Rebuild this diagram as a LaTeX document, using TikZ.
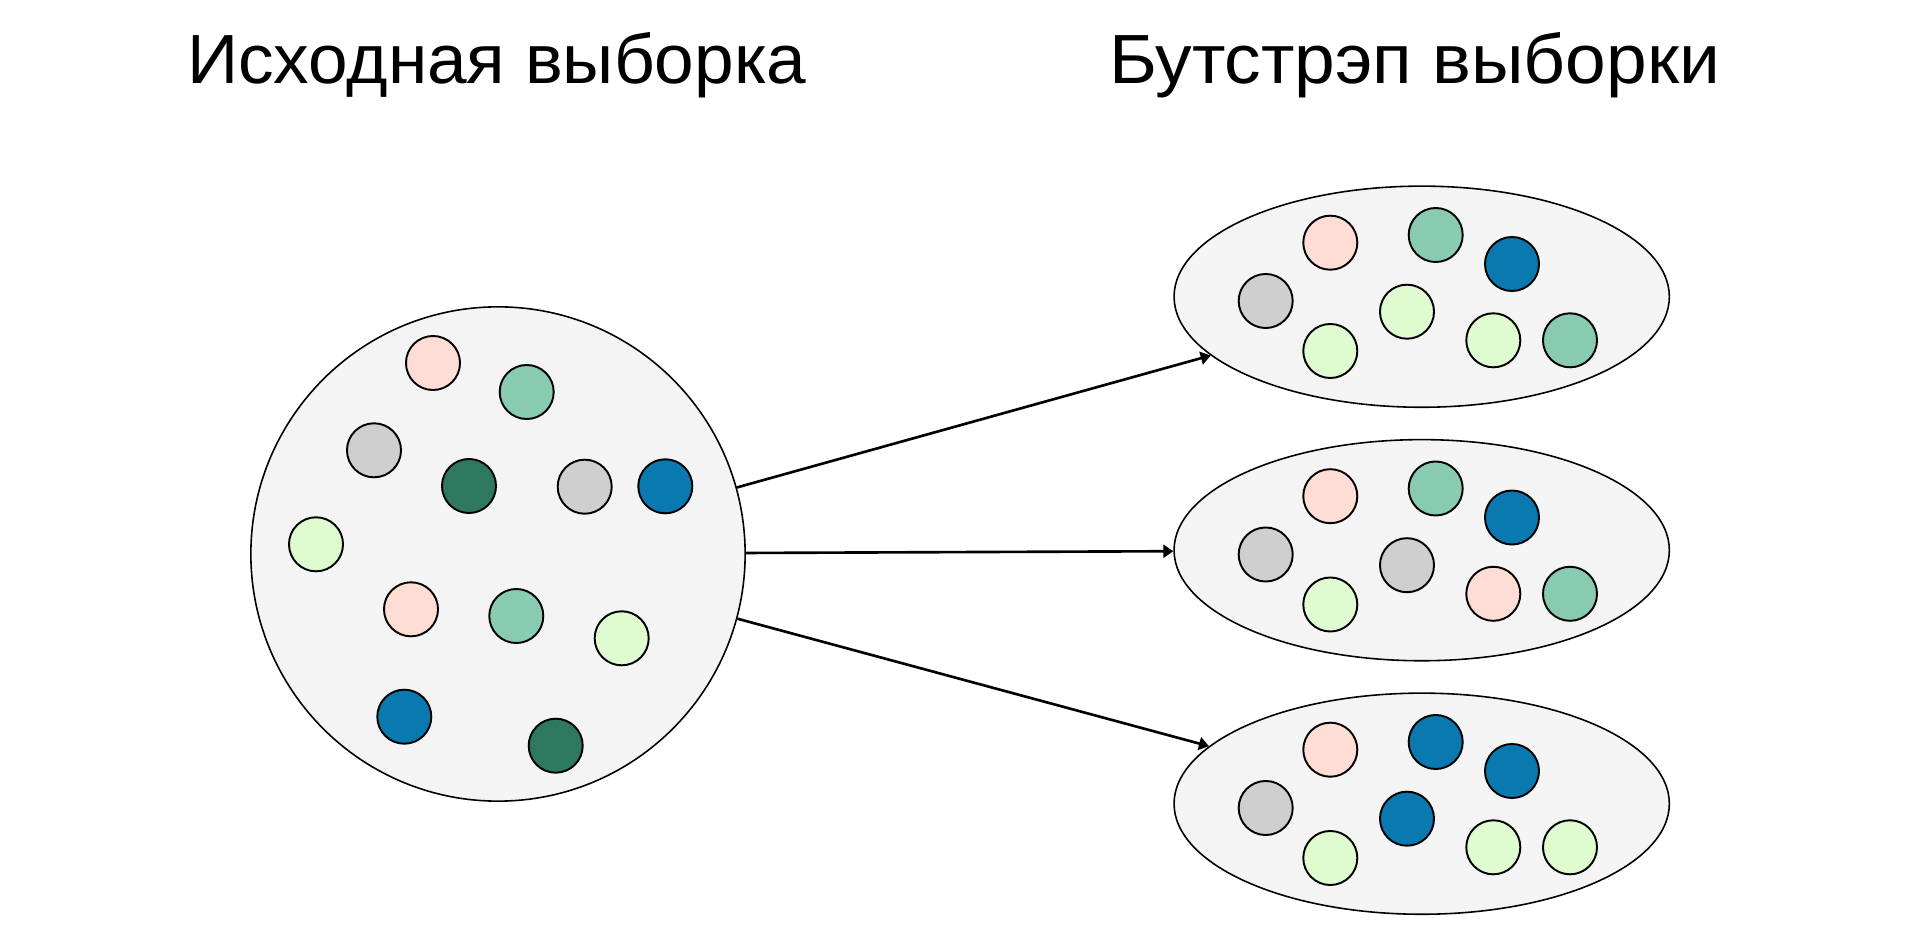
\documentclass[tikz,border=0pt]{standalone}
\usepackage{graphicx}
\usepackage{fontspec}
\setmainfont{Liberation Sans}
\usetikzlibrary{shapes.geometric,arrows.meta}
\definecolor{bgfill}{HTML}{F4F4F4}
\definecolor{cpink}{HTML}{FFDCD4}
\definecolor{cteal}{HTML}{89CBB0}
\definecolor{cgray}{HTML}{CFCFCF}
\definecolor{cdark}{HTML}{2E7860}
\definecolor{cblue}{HTML}{0A79B0}
\definecolor{clime}{HTML}{DEFCD0}
\tikzset{
  dot/.style={circle, draw=black, line width=0.55pt, minimum size=0.54cm, inner sep=0pt},
  bigcirc/.style={circle, draw=black, line width=0.45pt, fill=bgfill, minimum size=4.94cm, inner sep=0pt},
  sampell/.style={ellipse, draw=black, line width=0.45pt, fill=bgfill, minimum width=4.95cm, minimum height=2.21cm, inner sep=0pt},
  conn/.style={line width=0.75pt, -{Triangle[length=0.1cm, width=0.13cm]}},
  ttl/.style={anchor=base, inner sep=0pt, font=\fontsize{19.8pt}{23pt}\selectfont}
}
\begin{document}
\begin{tikzpicture}[x=0.01cm, y=-0.01cm]
\useasboundingbox (0,0) rectangle (1920,949);
% titles
\node[ttl] (t1) at (496.7,83.3) {\scalebox{1.022}[1]{Исходная выборка}};
\node[ttl] (t2) at (1414.5,83.3) {\scalebox{1.05}[1]{Бутстрэп выборки}};
% original sample
\node[bigcirc] (big) at (498,554) {};
\node[dot, fill=cpink] (o1) at (433,363) {};
\node[dot, fill=cteal] (o2) at (526.7,392) {};
\node[dot, fill=cgray] (o3) at (374,450.3) {};
\node[dot, fill=cdark] (o4) at (469,486) {};
\node[dot, fill=cgray] (o5) at (584.7,486.7) {};
\node[dot, fill=cblue] (o6) at (665.3,486.3) {};
\node[dot, fill=clime] (o7) at (316,544.3) {};
\node[dot, fill=cpink] (o8) at (411,609.3) {};
\node[dot, fill=cteal] (o9) at (516.3,616) {};
\node[dot, fill=clime] (o10) at (621.7,638.3) {};
\node[dot, fill=cblue] (o11) at (404.3,716.7) {};
\node[dot, fill=cdark] (o12) at (555.7,745.7) {};
% bootstrap sample 1
\node[sampell] (e1) at (1421.7,296.7) {};
\node[dot, fill=cgray] (a1) at (1265.7,301) {};
\node[dot, fill=cpink] (a2) at (1330.3,242.7) {};
\node[dot, fill=clime] (a3) at (1330.3,351) {};
\node[dot, fill=cteal] (a4) at (1435.7,235) {};
\node[dot, fill=clime] (a5) at (1407,311.7) {};
\node[dot, fill=cblue] (a6) at (1512,264) {};
\node[dot, fill=clime] (a7) at (1493.3,340.3) {};
\node[dot, fill=cteal] (a8) at (1570,340.3) {};
% bootstrap sample 2
\node[sampell] (e2) at (1421.7,550.2) {};
\node[dot, fill=cgray] (b1) at (1265.7,554.5) {};
\node[dot, fill=cpink] (b2) at (1330.3,496.2) {};
\node[dot, fill=clime] (b3) at (1330.3,604.5) {};
\node[dot, fill=cteal] (b4) at (1435.7,488.5) {};
\node[dot, fill=cgray] (b5) at (1407,565.2) {};
\node[dot, fill=cblue] (b6) at (1512,517.5) {};
\node[dot, fill=cpink] (b7) at (1493.3,593.8) {};
\node[dot, fill=cteal] (b8) at (1570,593.8) {};
% bootstrap sample 3
\node[sampell] (e3) at (1421.7,803.7) {};
\node[dot, fill=cgray] (c1) at (1265.7,808) {};
\node[dot, fill=cpink] (c2) at (1330.3,749.7) {};
\node[dot, fill=clime] (c3) at (1330.3,858) {};
\node[dot, fill=cblue] (c4) at (1435.7,742) {};
\node[dot, fill=cblue] (c5) at (1407,818.7) {};
\node[dot, fill=cblue] (c6) at (1512,771) {};
\node[dot, fill=clime] (c7) at (1493.3,847.3) {};
\node[dot, fill=clime] (c8) at (1570,847.3) {};
% connectors
\draw[conn] (big) -- (e1);
\draw[conn] (big) -- (e2);
\draw[conn] (big) -- (e3);
\end{tikzpicture}
\end{document}
